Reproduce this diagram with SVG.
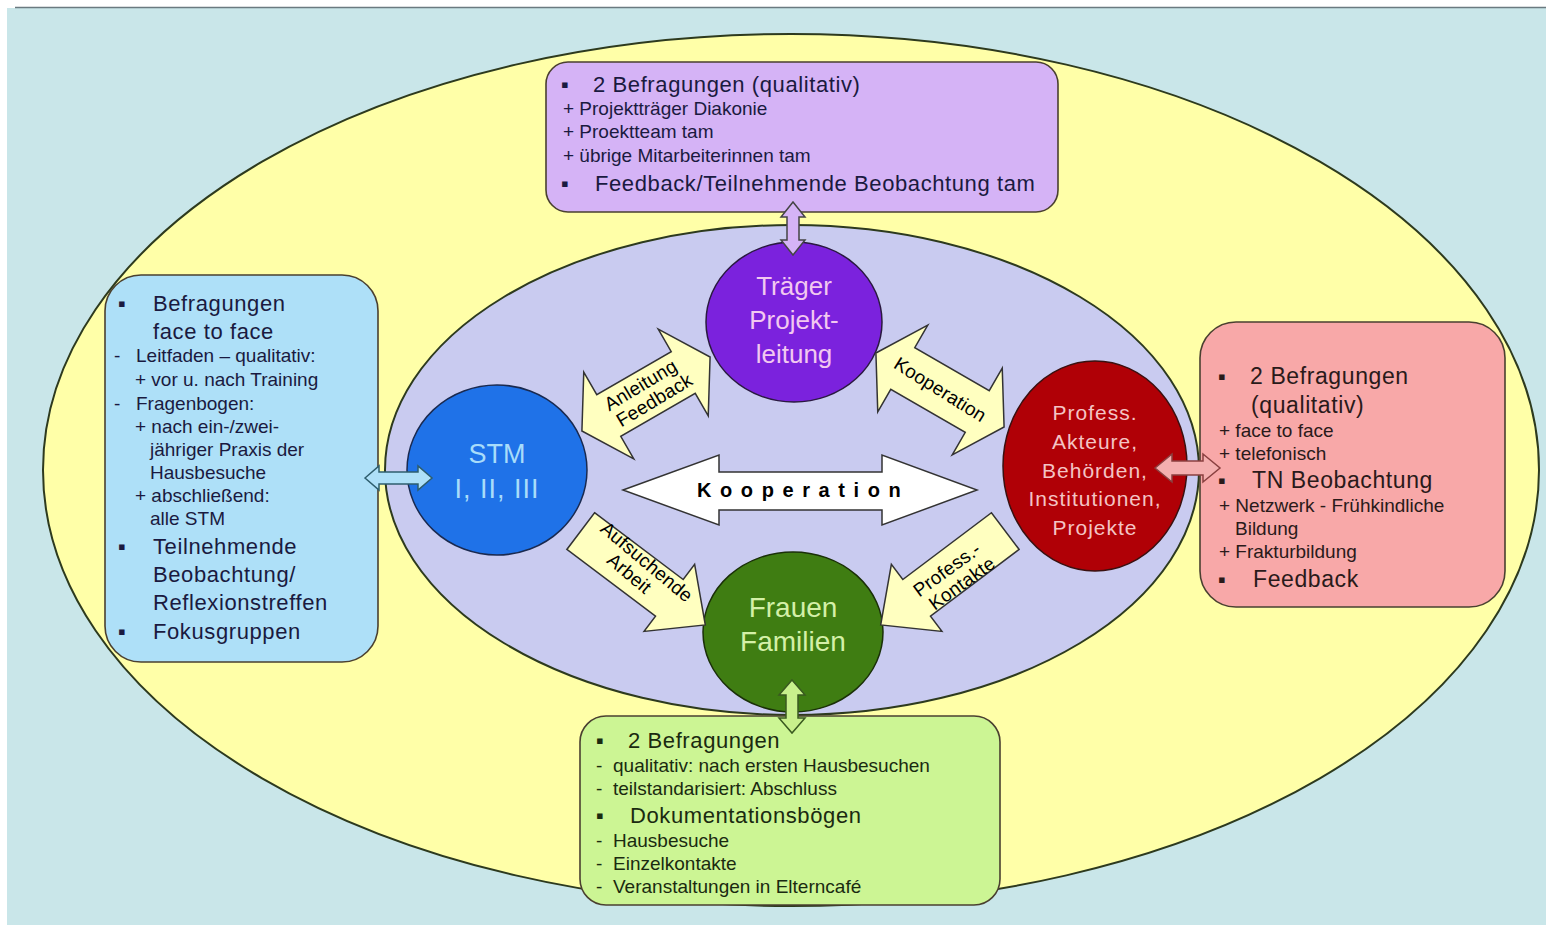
<svg xmlns="http://www.w3.org/2000/svg" width="1546" height="925" viewBox="0 0 1546 925">
<style>
text{font-family:"Liberation Sans",Arial,sans-serif}
.box{stroke:#4a4030;stroke-width:1.6}
.big{font-size:22px;letter-spacing:0.6px}
.big23{font-size:23px;letter-spacing:0.6px}
.sm{font-size:19px}
.bul{font-size:22px}
.ct{text-anchor:middle}
.ya{fill:#FFFFC0;stroke:#333;stroke-width:1.5}
.at{font-size:19px;text-anchor:middle;fill:#000;letter-spacing:0.2px}
</style>
<rect x="0" y="0" width="1546" height="925" fill="#ffffff"/>
<rect x="7" y="8" width="1539" height="917" fill="#C9E6E9"/>
<line x1="15" y1="7.5" x2="1546" y2="7.5" stroke="#6a7a80" stroke-width="1.5"/>
<ellipse cx="791" cy="470" rx="748" ry="436" fill="#FFFFA8" stroke="#2d3a1e" stroke-width="2"/>
<ellipse cx="792" cy="470" rx="407" ry="245" fill="#C9CBF0" stroke="#2d3a1e" stroke-width="2"/>

<g id="node-traeger">
<ellipse cx="794" cy="322" rx="88" ry="80" fill="#7B22DD" stroke="#2a1a40" stroke-width="1.5"/>
<text class="ct" x="794" y="295" font-size="26" fill="#F2C8F0">Träger</text>
<text class="ct" x="794" y="329" font-size="26" fill="#F2C8F0">Projekt-</text>
<text class="ct" x="794" y="363" font-size="26" fill="#F2C8F0">leitung</text>
</g>

<g id="node-stm">
<ellipse cx="497" cy="470" rx="90" ry="85" fill="#1F72E8" stroke="#1a2a50" stroke-width="1.5"/>
<text class="ct" x="497" y="463" font-size="27" fill="#A8DCFA">STM</text>
<text class="ct" x="497" y="498" font-size="27" fill="#A8DCFA" letter-spacing="1">I, II, III</text>
</g>

<g id="node-profess">
<ellipse cx="1095" cy="466" rx="92" ry="105" fill="#B00006" stroke="#3a1010" stroke-width="1.5"/>
<text class="ct" x="1095" y="420" font-size="21" letter-spacing="1" fill="#F4C4C4">Profess.</text>
<text class="ct" x="1095" y="449" font-size="21" letter-spacing="1" fill="#F4C4C4">Akteure,</text>
<text class="ct" x="1095" y="478" font-size="21" letter-spacing="1" fill="#F4C4C4">Behörden,</text>
<text class="ct" x="1095" y="506" font-size="21" letter-spacing="1" fill="#F4C4C4">Institutionen,</text>
<text class="ct" x="1095" y="535" font-size="21" letter-spacing="1" fill="#F4C4C4">Projekte</text>
</g>

<g id="node-frauen">
<ellipse cx="793" cy="632" rx="90" ry="80" fill="#3F7D12" stroke="#1a3008" stroke-width="1.5"/>
<text class="ct" x="793" y="617" font-size="28" fill="#D4F0A8">Frauen</text>
<text class="ct" x="793" y="651" font-size="28" fill="#D4F0A8">Familien</text>
</g>

<g id="box-top" fill="#1a1a40">
<rect class="box" x="546" y="62" width="512" height="150" rx="22" fill="#D5B3F6"/>
<text class="bul" x="561" y="92">▪</text>
<text class="big" x="593" y="92">2 Befragungen (qualitativ)</text>
<text class="sm" x="563" y="115">+ Projektträger Diakonie</text>
<text class="sm" x="563" y="138">+ Proektteam tam</text>
<text class="sm" x="563" y="162">+ übrige Mitarbeiterinnen tam</text>
<text class="bul" x="561" y="191">▪</text>
<text class="big" x="595" y="191">Feedback/Teilnehmende Beobachtung tam</text>
</g>

<g id="box-left" fill="#1a1a40">
<rect class="box" x="105" y="275" width="273" height="387" rx="36" fill="#AEE0F8"/>
<text class="bul" x="118" y="311">▪</text>
<text class="big" x="153" y="311">Befragungen</text>
<text class="big" x="153" y="339">face to face</text>
<text class="sm"><tspan x="114" y="362">-</tspan><tspan x="136" y="362">Leitfaden – qualitativ:</tspan></text>
<text class="sm" x="135" y="386">+ vor u. nach Training</text>
<text class="sm"><tspan x="114" y="410">-</tspan><tspan x="136" y="410">Fragenbogen:</tspan></text>
<text class="sm" x="135" y="433">+ nach ein-/zwei-</text>
<text class="sm" x="150" y="456">jähriger Praxis der</text>
<text class="sm" x="150" y="479">Hausbesuche</text>
<text class="sm" x="135" y="502">+ abschließend:</text>
<text class="sm" x="150" y="525">alle STM</text>
<text class="bul" x="118" y="554">▪</text>
<text class="big" x="153" y="554">Teilnehmende</text>
<text class="big" x="153" y="582">Beobachtung/</text>
<text class="big" x="153" y="610">Reflexionstreffen</text>
<text class="bul" x="118" y="639">▪</text>
<text class="big" x="153" y="639">Fokusgruppen</text>
</g>

<g id="box-right" fill="#2a1a1a">
<rect class="box" x="1200" y="322" width="305" height="285" rx="36" fill="#F8A8A8"/>
<text class="bul" x="1218" y="384">▪</text>
<text class="big23" x="1250" y="384">2 Befragungen</text>
<text class="big23" x="1251" y="413">(qualitativ)</text>
<text class="sm" x="1219" y="437">+ face to face</text>
<text class="sm" x="1219" y="460">+ telefonisch</text>
<text class="bul" x="1218" y="488">▪</text>
<text class="big23" x="1252" y="488">TN Beobachtung</text>
<text class="sm" x="1219" y="512">+ Netzwerk - Frühkindliche</text>
<text class="sm" x="1235" y="535">Bildung</text>
<text class="sm" x="1219" y="558">+ Frakturbildung</text>
<text class="bul" x="1218" y="587">▪</text>
<text class="big23" x="1253" y="587">Feedback</text>
</g>

<g id="box-bottom" fill="#1a2a10">
<rect class="box" x="580" y="716" width="420" height="189" rx="26" fill="#CCF594"/>
<text class="bul" x="596" y="748">▪</text>
<text class="big" x="628" y="748">2 Befragungen</text>
<text class="sm"><tspan x="596" y="772">-</tspan><tspan x="613" y="772">qualitativ: nach ersten Hausbesuchen</tspan></text>
<text class="sm"><tspan x="596" y="795">-</tspan><tspan x="613" y="795">teilstandarisiert: Abschluss</tspan></text>
<text class="bul" x="596" y="823">▪</text>
<text class="big" x="630" y="823">Dokumentationsbögen</text>
<text class="sm"><tspan x="596" y="847">-</tspan><tspan x="613" y="847">Hausbesuche</tspan></text>
<text class="sm"><tspan x="596" y="870">-</tspan><tspan x="613" y="870">Einzelkontakte</tspan></text>
<text class="sm"><tspan x="596" y="893">-</tspan><tspan x="613" y="893">Veranstaltungen in Elterncafé</tspan></text>
</g>

<g id="connectors">
<polygon class="ya" points="-74,0 -43,-50 -43,-24 43,-24 43,-50 74,0 43,50 43,24 -43,24 -43,50" transform="translate(646,394) rotate(-30)"/>
<polygon class="ya" points="-74,0 -43,-50 -43,-24 43,-24 43,-50 74,0 43,50 43,24 -43,24 -43,50" transform="translate(940,390) rotate(30)"/>
<polygon class="ya" points="-78,-23 33,-23 33,-42 78,0 33,42 33,23 -78,23" transform="translate(643,578) rotate(37)"/>
<polygon class="ya" points="-78,-23 33,-23 33,-42 78,0 33,42 33,23 -78,23" transform="translate(943,578) rotate(143)"/>
<polygon fill="#ffffff" stroke="#333" stroke-width="1.5" points="623,490 719,455 719,472 882,472 882,455 977,490 882,525 882,510 719,510 719,525"/>
<polygon fill="#D5B3F6" stroke="#444" stroke-width="1.5" points="793,202 805,217 799,217 799,240 805,240 793,255 781,240 787,240 787,217 781,217"/>
<polygon fill="#C8F08C" stroke="#3a5a20" stroke-width="1.5" points="792,680 805,695 798,695 798,718 805,718 792,733 779,718 786,718 786,695 779,695"/>
<polygon fill="#AEE0F8" stroke="#2E5E6E" stroke-width="1.5" points="365,478 379,466 379,472 418,472 418,466 432,478 418,490 418,484 379,484 379,490"/>
<polygon fill="#F4AFAF" stroke="#8a4040" stroke-width="1.5" points="1155,468 1172,454 1172,461 1203,461 1203,454 1220,468 1203,482 1203,475 1172,475 1172,482"/>
<g transform="translate(646,394) rotate(-31)">
<text class="at" x="0" y="-4">Anleitung</text>
<text class="at" x="4" y="16">Feedback</text>
</g>
<g transform="translate(940,390) rotate(32)">
<text class="at" x="0" y="6">Kooperation</text>
</g>
<g transform="translate(640,570) rotate(40)">
<text class="at" x="0" y="-4">Aufsuchende</text>
<text class="at" x="-6" y="16">Arbeit</text>
</g>
<g transform="translate(953,578) rotate(-36)">
<text class="at" x="0" y="-4">Profess.-</text>
<text class="at" x="4" y="16">Kontakte</text>
</g>
<text x="697" y="497" font-size="20" font-weight="bold" letter-spacing="8.6" fill="#000">Kooperation</text>
</g>
</svg>
